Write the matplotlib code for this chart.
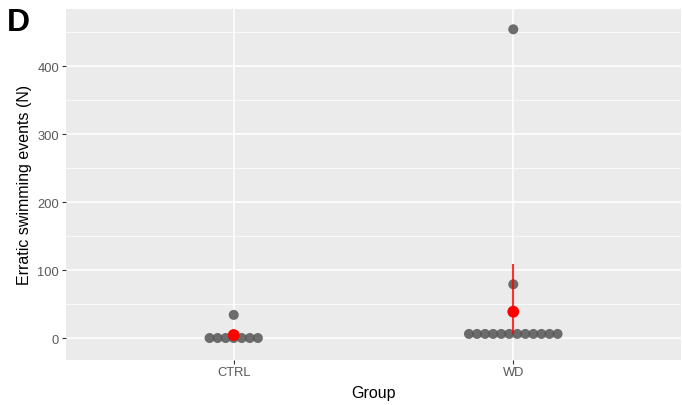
import numpy as np
import matplotlib
matplotlib.use("Agg")
from matplotlib import pyplot as plt

plt.rcParams['font.family'] = ['Liberation Sans', 'DejaVu Sans']

# raw counts per fish
groups = ['CTRL', 'WD']
ctrl_events = [0, 0, 0, 0, 0, 0, 0, 34]
wd_events = [6, 6, 6, 6, 6, 6, 6, 6, 6, 6, 6, 6, 79, 454]

# summary: mean with bootstrap interval
group_mean = [4.4, 38.7]
ci_low = [0, 6]
ci_high = [10, 109]

YLIM = (-31.6, 484.6)
DOT_STEP = 0.0288   # horizontal spacing between stacked dots, in x units
BIN_WIDTH = 12      # values closer than this stack side by side

BG = '#EBEBEB'
TICK_COLOR = '#585858'


def stack_offsets(values):
    # centre-stack points that fall in the same y bin
    values = np.asarray(values, dtype=float)
    bins = np.round(values / BIN_WIDTH).astype(int)
    offs = np.zeros(len(values))
    for b in np.unique(bins):
        idx = np.where(bins == b)[0]
        n = len(idx)
        offs[idx] = (np.arange(n) - (n - 1) / 2) * DOT_STEP
    return offs


fig = plt.figure(figsize=(6.82, 4.06), dpi=100)
ax = fig.add_axes([66 / 682, 1 - 360.5 / 406, 615 / 682, 351 / 406])
ax.set_facecolor(BG)

for i, vals in enumerate([ctrl_events, wd_events]):
    xpos = i + 1 + stack_offsets(vals)
    ax.scatter(xpos, vals, s=52, color='#555555', alpha=0.85,
               edgecolors='none', zorder=3)

xs = np.arange(1, len(groups) + 1)
ax.vlines(xs, ci_low, ci_high, color='#FF0000', alpha=0.8, lw=1.5, zorder=4)
ax.scatter(xs, group_mean, s=72, color='#FF0000', edgecolors='none', zorder=5)

ax.set_xlim(0.4, 2.6)
ax.set_ylim(*YLIM)
ax.set_xticks(xs)
ax.set_xticklabels(groups)
ax.set_yticks([0, 100, 200, 300, 400])
ax.set_yticks([50, 150, 250, 350, 450], minor=True)

ax.grid(which='major', color='white', lw=1.1)
ax.grid(which='minor', axis='y', color='white', lw=0.55)
ax.set_axisbelow(True)
for s in ax.spines.values():
    s.set_visible(False)

ax.tick_params(axis='both', which='major', length=3, width=0.8,
               color='#333333', labelcolor=TICK_COLOR, labelsize=9.3, pad=2)
ax.tick_params(axis='both', which='minor', length=0)

ax.set_xlabel('Group', fontsize=11.5, color='black', labelpad=5)
ax.set_ylabel('Erratic swimming events (N)', fontsize=11.5, color='black',
              labelpad=4)

fig.text(7 / 682, 1 - 8 / 406, 'D', fontsize=23, fontweight='bold',
         va='top', ha='left')

fig.savefig('out.png', dpi=100)
